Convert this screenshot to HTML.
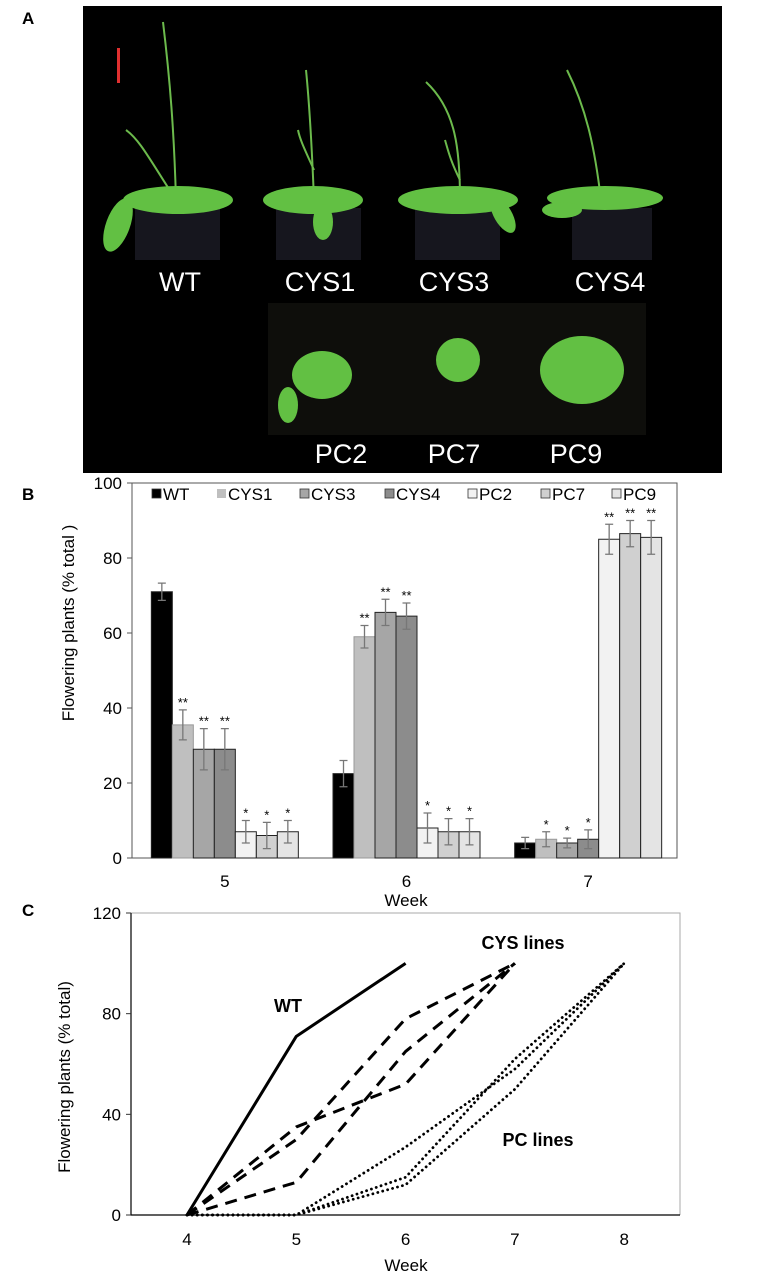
<!DOCTYPE html>
<html><head><meta charset="utf-8"><style>
html,body{margin:0;padding:0;background:#fff;width:764px;height:1284px;overflow:hidden}
svg{display:block;font-family:"Liberation Sans",Arial,sans-serif}
</style></head><body>
<svg id="fig" width="764" height="1284" viewBox="0 0 764 1284">
  <text x="22" y="24" font-size="17" font-weight="bold">A</text>
  <g id="photo">
    <rect x="83" y="6" width="639" height="467" fill="#000"/>
    <rect x="117" y="48" width="3" height="35" fill="#e03030"/>
    <rect x="362" y="316" width="44" height="4" fill="#e03030"/>
    <rect x="268" y="303" width="378" height="132" fill="#0e0e0b"/>
    <g fill="#16161e">
      <rect x="135" y="208" width="85" height="52"/>
      <rect x="276" y="208" width="85" height="52"/>
      <rect x="415" y="208" width="85" height="52"/>
      <rect x="572" y="208" width="80" height="52"/>
    </g>
    <g stroke="#6cba4c" stroke-width="2" fill="none">
      <path d="M176 200 C174 130 170 80 163 22"/><path d="M176 200 C150 160 140 140 126 130"/>
      <path d="M314 200 C312 150 310 110 306 70"/><path d="M314 170 C305 150 300 140 298 130"/>
      <path d="M460 200 C460 150 456 110 426 82"/><path d="M460 180 C450 160 448 150 445 140"/>
      <path d="M601 200 C595 150 587 110 567 70"/>
    </g>
    <g fill="#62c043">
      <ellipse cx="178" cy="200" rx="55" ry="14"/><ellipse cx="118" cy="225" rx="12" ry="28" transform="rotate(20 118 225)"/>
      <ellipse cx="313" cy="200" rx="50" ry="14"/><ellipse cx="323" cy="222" rx="10" ry="18"/>
      <ellipse cx="458" cy="200" rx="60" ry="14"/><ellipse cx="503" cy="215" rx="9" ry="20" transform="rotate(-30 503 215)"/>
      <ellipse cx="605" cy="198" rx="58" ry="12"/><ellipse cx="562" cy="210" rx="20" ry="8"/>
      <ellipse cx="322" cy="375" rx="30" ry="24"/><ellipse cx="288" cy="405" rx="10" ry="18"/>
      <ellipse cx="458" cy="360" rx="22" ry="22"/>
      <ellipse cx="582" cy="370" rx="42" ry="34"/>
    </g>
    <g fill="#fff" font-size="27" text-anchor="middle">
      <text x="180" y="291">WT</text>
      <text x="320" y="291">CYS1</text>
      <text x="454" y="291">CYS3</text>
      <text x="610" y="291">CYS4</text>
      <text x="341" y="463">PC2</text>
      <text x="454" y="463">PC7</text>
      <text x="576" y="463">PC9</text>
    </g>
  </g>
  <text x="22" y="500" font-size="17" font-weight="bold">B</text>
  <g id="chartB"></g>
  <text x="22" y="916" font-size="17" font-weight="bold">C</text>
  <g id="chartC"></g>
</svg>
<script>
const NS="http://www.w3.org/2000/svg";
function mk(parent,tag,attrs,text){const e=document.createElementNS(NS,tag);for(const k in attrs)e.setAttribute(k,attrs[k]);if(text!==undefined)e.textContent=text;parent.appendChild(e);return e;}

// ---- Panel B data ----
const weeksB=["5","6","7"];
const seriesNames=["WT","CYS1","CYS3","CYS4","PC2","PC7","PC9"];
const valWT=[71,22.5,4];
const valCYS1=[35.5,59,5];
const valCYS3=[29,65.5,4];
const valCYS4=[29,64.5,5];
const valPC2=[7,8,85];
const valPC7=[6,7,86.5];
const valPC9=[7,7,85.5];
const errWT=[2.3,3.5,1.5];
const errCYS1=[4,3,2];
const errCYS3=[5.5,3.5,1.3];
const errCYS4=[5.5,3.5,2.5];
const errPC2=[3,4,4];
const errPC7=[3.5,3.5,3.5];
const errPC9=[3,3.5,4.5];
const starsWT=["","",""];
const starsCYS1=["**","**","*"];
const starsCYS3=["**","**","*"];
const starsCYS4=["**","**","*"];
const starsPC2=["*","*","**"];
const starsPC7=["*","*","**"];
const starsPC9=["*","*","**"];
const yTicksB=[0,20,40,60,80,100];

const vals=[valWT,valCYS1,valCYS3,valCYS4,valPC2,valPC7,valPC9];
const errs=[errWT,errCYS1,errCYS3,errCYS4,errPC2,errPC7,errPC9];
const stars=[starsWT,starsCYS1,starsCYS3,starsCYS4,starsPC2,starsPC7,starsPC9];
const fills=["#000","#bfbfbf","#a6a6a6","#8c8c8c","#f2f2f2","#d0d0d0","#e4e4e4"];

const B=document.getElementById("chartB");
const bL=132,bR=677,bT=483,bB=858;
const yB=v=>bB-(v/100)*(bB-bT);
const groupW=(bR-bL)/3, barW=21;
const xB=(g,s)=>bL+2+groupW*(g+0.5)+(s-3.5)*barW;

let r=mk(B,"rect",{x:bL,y:bT,width:bR-bL,height:bB-bT,fill:"none",stroke:"#555","stroke-width":1});


yTicksB.forEach(t=>{
  const tl=mk(B,"line",{x1:bL-5,x2:bL,y1:yB(t),y2:yB(t),stroke:"#555"});
  
  
  const tx=mk(B,"text",{x:bL-10,y:yB(t)+6,"font-size":17,"text-anchor":"end"},t);
  
  
});
weeksB.forEach((w,g)=>{
  for(let s=0;s<7;s++){
    const v=vals[s][g],e=errs[s][g];
    const x=xB(g,s);
    const b=mk(B,"rect",{x:x,y:yB(v),width:barW,height:yB(0)-yB(v),fill:fills[s],stroke:s==1?"#999":"#222","stroke-width":1});
    
    
    const cx=x+barW/2;
    const eb=mk(B,"path",{d:`M${cx} ${yB(v+e)}V${yB(v-e)}M${cx-4} ${yB(v+e)}H${cx+4}M${cx-4} ${yB(v-e)}H${cx+4}`,stroke:"#777","stroke-width":1.3,fill:"none"});
    
    
    if(stars[s][g]){
      const st=mk(B,"text",{x:cx,y:yB(v+e)-3,"font-size":13,"text-anchor":"middle"},stars[s][g]);
      
      
    }
  }
  const xl=mk(B,"text",{x:bL+2+groupW*(g+0.5),y:887,"font-size":17,"text-anchor":"middle"},w);
  
  
});
const legX=[152,217,300,385,468,541,612];
seriesNames.forEach((n,s)=>{
  const g=mk(B,"g",{});
  
  
  mk(g,"rect",{x:legX[s],y:489,width:9,height:9,fill:fills[s],stroke:s==1?"none":"#333","stroke-width":0.8});
  mk(g,"text",{x:legX[s]+11,y:500,"font-size":17},n);
});
let t=mk(B,"text",{x:0,y:0,"font-size":17,"text-anchor":"middle",transform:"translate(74,623) rotate(-90)"},"Flowering plants (% total )");


t=mk(B,"text",{x:406,y:906,"font-size":17,"text-anchor":"middle"},"Week");



// ---- Panel C data ----
const weeksC=[4,5,6,7,8];
const yTicksC=[0,40,80,120];
const wtWeeks=[4,5,6];
const wtVals=[0,71,100];
const cysWeeks=[4,5,6,7];
const cysA=[0,35,52,100];
const cysB=[0,30,78,100];
const cysC=[0,13,65,100];
const pcWeeks=[4,5,6,7,8];
const pcA=[0,0,27,58,100];
const pcB=[0,0,15,62,100];
const pcC=[0,0,12,50,100];

const C=document.getElementById("chartC");
const cL=131,cR=680,cT=913,cB=1215;
const xC=w=>187+(w-4)*109.3;
const yC=v=>cB-(v/120)*(cB-cT);
r=mk(C,"path",{d:`M${cL} ${cT}H${cR}V${cB}`,fill:"none",stroke:"#aaa","stroke-width":1});


r=mk(C,"path",{d:`M${cL} ${cT}V${cB}H${cR}`,fill:"none",stroke:"#000","stroke-width":1.2});


yTicksC.forEach(v=>{
  const tl=mk(C,"line",{x1:cL-5,x2:cL,y1:yC(v),y2:yC(v),stroke:"#333"});
  
  
  const tx=mk(C,"text",{x:cL-10,y:yC(v)+6,"font-size":17,"text-anchor":"end"},v);
  
  
});
weeksC.forEach(w=>{
  const tx=mk(C,"text",{x:xC(w),y:1245,"font-size":17,"text-anchor":"middle"},w);
  
  
});
function line(ws,vs,style,name){
  const d=ws.map((w,i)=>(i?"L":"M")+xC(w)+" "+yC(vs[i])).join("");
  const p=mk(C,"path",Object.assign({d:d,fill:"none",stroke:"#000","stroke-linejoin":"round"},style));
  
  
}
line(wtWeeks,wtVals,{"stroke-width":3},"line-wt");
const dash={"stroke-width":3,"stroke-dasharray":"12 8"};
line(cysWeeks,cysA,dash,"line-cys-a");
line(cysWeeks,cysB,dash,"line-cys-b");
line(cysWeeks,cysC,dash,"line-cys-c");
const dot={"stroke-width":2.8,"stroke-dasharray":"0.1 5","stroke-linecap":"round"};
line(pcWeeks,pcA,dot,"line-pc-a");
line(pcWeeks,pcB,dot,"line-pc-b");
line(pcWeeks,pcC,dot,"line-pc-c");
t=mk(C,"text",{x:288,y:1012,"font-size":18,"font-weight":"bold","text-anchor":"middle"},"WT");


t=mk(C,"text",{x:523,y:949,"font-size":18,"font-weight":"bold","text-anchor":"middle"},"CYS lines");


t=mk(C,"text",{x:538,y:1146,"font-size":18,"font-weight":"bold","text-anchor":"middle"},"PC lines");


t=mk(C,"text",{x:0,y:0,"font-size":17,"text-anchor":"middle",transform:"translate(70,1077) rotate(-90)"},"Flowering plants (% total)");


t=mk(C,"text",{x:406,y:1271,"font-size":17,"text-anchor":"middle"},"Week");


</script>
</body></html>
